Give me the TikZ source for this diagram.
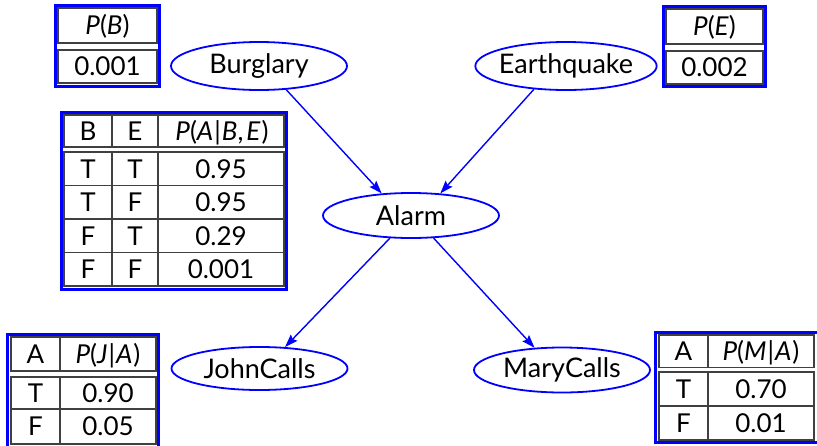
\documentclass[tikz,border=0pt]{standalone}
\usepackage{fontspec}
\setmainfont{Lato}
\usetikzlibrary{shapes.geometric,arrows.meta}
\begin{document}
\begin{tikzpicture}[x=1pt,y=-1pt,
  bn/.style={ellipse,draw=blue,line width=1.8pt,minimum width=176pt,minimum height=46pt,inner xsep=-3pt,inner ysep=0pt,font=\fontsize{27}{32}\selectfont},
  link/.style={blue,line width=1.4pt,-{Stealth[length=13pt,width=9pt,inset=2pt]}},
  tframe/.style={draw=blue,line width=3pt},
  tgrid/.style={draw=black!75,line width=1.1pt},
  cell/.style={inner sep=0pt,text height=18.7pt,text depth=0pt,font=\fontsize{26}{31}\selectfont}]
\useasboundingbox (0,0) rectangle (817,445);
\clip (0,0) rectangle (817,445);

% ---------- P(B) ----------
\draw[tframe] (55.5,5.5) rectangle (159.5,86);
\draw[tgrid] (58,8) rectangle (157,43);
\draw[tgrid] (58,50) rectangle (157,83);
\node[cell] (pbh) at (107.5,25.5) {\textit{P}(\textit{B})};
\node[cell] (pbv) at (107.5,66.5) {0.001};

% ---------- P(E) ----------
\draw[tframe] (663.5,6.5) rectangle (765.5,86.5);
\draw[tgrid] (666,9) rectangle (763,44);
\draw[tgrid] (666,51) rectangle (763,84);
\node[cell] (peh) at (714.5,26.5) {\textit{P}(\textit{E})};
\node[cell] (pev) at (714.5,67.5) {0.002};

% ---------- P(A|B,E) ----------
\draw[tframe] (61.5,112.5) rectangle (286.5,289.5);
\draw[tgrid] (64,115) rectangle (284,147);
\draw[tgrid] (64,152) rectangle (284,286);
\draw[tgrid] (64,185.5) -- (284,185.5) (64,219) -- (284,219) (64,252.5) -- (284,252.5);
\draw[tgrid] (112,115) -- (112,147) (158,115) -- (158,147);
\draw[tgrid] (112,152) -- (112,286) (158,152) -- (158,286);
\node[cell] (ah1) at (88,131) {B};
\node[cell] (ah2) at (135,131) {E};
\node[cell] (ah3) at (222,131) {\textit{P}(\textit{A}\kern1pt|\kern1pt\textit{B},\kern3pt\textit{E}\kern1pt)};
\node[cell] (a11) at (88,168.75) {T};
\node[cell] (a12) at (135,168.75) {T};
\node[cell] (a13) at (221,168.75) {0.95};
\node[cell] (a21) at (88,202.25) {T};
\node[cell] (a22) at (135,202.25) {F};
\node[cell] (a23) at (221,202.25) {0.95};
\node[cell] (a31) at (88,235.75) {F};
\node[cell] (a32) at (135,235.75) {T};
\node[cell] (a33) at (221,235.75) {0.29};
\node[cell] (a41) at (88,269.25) {F};
\node[cell] (a42) at (135,269.25) {F};
\node[cell] (a43) at (221,269.25) {0.001};

% ---------- P(J|A) ----------
\draw[tframe] (7.5,334.5) rectangle (158.5,448);
\draw[tgrid] (11,337) rectangle (156,371);
\draw[tgrid] (11,377) rectangle (156,444);
\draw[tgrid] (11,409) -- (156,409);
\draw[tgrid] (60,337) -- (60,371) (60,377) -- (60,444);
\node[cell] (jh1) at (35.5,354) {A};
\node[cell] (jh2) at (108,354) {\textit{P}(\textit{J}\kern1pt|\kern1pt\textit{A}\kern1pt)};
\node[cell] (j11) at (35.5,393) {T};
\node[cell] (j12) at (108,393) {0.90};
\node[cell] (j21) at (35.5,426.5) {F};
\node[cell] (j22) at (108,426.5) {0.05};

% ---------- P(M|A) ----------
\draw[tframe] (655.5,332.5) rectangle (820,442.5);
\draw[tgrid] (659,335) rectangle (814,367.5);
\draw[tgrid] (659,372) rectangle (814,440);
\draw[tgrid] (659,406) -- (814,406);
\draw[tgrid] (708,335) -- (708,367.5) (708,372) -- (708,440);
\node[cell] (mh1) at (683.5,351) {A};
\node[cell] (mh2) at (761,351) {\textit{P}(\textit{M}\kern1pt|\kern1pt\textit{A}\kern1pt)};
\node[cell] (m11) at (683.5,389) {T};
\node[cell] (m12) at (761,389) {0.70};
\node[cell] (m21) at (683.5,423) {F};
\node[cell] (m22) at (761,423) {0.01};

% ---------- network ----------
\node[bn,minimum height=48pt] (burglary) at (259,66) {Burglary};
\node[bn,minimum height=48pt,minimum width=180pt] (earthquake) at (566,66) {Earthquake};
\node[bn,minimum height=45pt] (alarm) at (411,215.5) {Alarm};
\node[bn,minimum height=43pt] (john) at (259.5,368.5) {JohnCalls};
\node[bn,minimum height=45pt] (mary) at (562,370) {MaryCalls};

\draw[link] (burglary.-41) -- (alarm.143);
\draw[link] (earthquake.216) -- (alarm.37);
\draw[link] (alarm.227) -- (john.40);
\draw[link] (alarm.-45) -- (mary.141);
\end{tikzpicture}
\end{document}
